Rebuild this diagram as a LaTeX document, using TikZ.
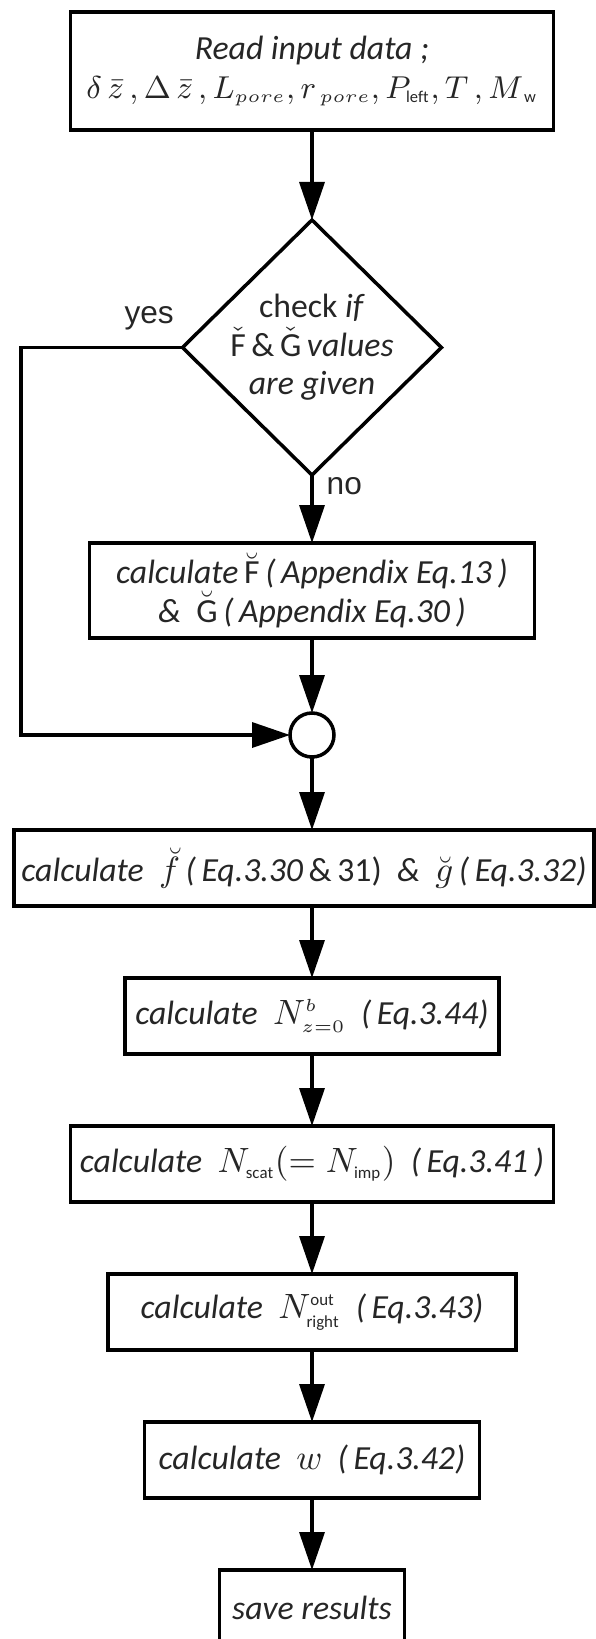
\documentclass[tikz,border=0pt]{standalone}
\usepackage{amsmath}
\usepackage{fontspec}
\setmainfont{Carlito}
\newfontfamily\labelfont{Liberation Sans}
\usetikzlibrary{arrows.meta, shapes.geometric, positioning, calc}
\newcommand{\ssub}[1]{{\scriptscriptstyle #1}}
\tikzset{
  procbox/.style={
    rectangle, draw=black, line width=1pt, outer sep=0pt,
    minimum width=#1, minimum height=0.76cm,
    inner sep=1pt, align=center, text=black!85,
    font=\fontsize{9.6}{11}\selectfont\itshape
  },
  procbox/.default=4cm,
  decision/.style={
    diamond, draw=black, line width=1pt, aspect=1, outer sep=0pt,
    minimum width=2.59cm, minimum height=2.55cm,
    inner sep=-3pt, align=center, text=black!85,
    font=\fontsize{9.6}{11}\selectfont
  },
  junction/.style={
    circle, draw=black, line width=1pt, outer sep=0pt,
    minimum size=0.44cm, inner sep=0pt
  },
  flowarrow/.style={-{Triangle[length=0.38cm,width=0.25cm]}, line width=1pt},
  branchlabel/.style={font=\labelfont\fontsize{9}{11}\selectfont, inner sep=0pt, text=black!85},
}

\begin{document}
\begin{tikzpicture}
  \useasboundingbox (0,0) rectangle (5.96,-16.39);
  \node[procbox=4.83cm, minimum height=1.18cm] (read) at (3.12,-0.71)
    {Read input data ;\\
     \upshape\fontsize{9.4}{11}\selectfont
     $\delta\,\bar{z}\,,\Delta\,\bar{z}\,,L_{\ssub{pore}},r_{\ssub{\,pore}},P_{\ssub{\mathrm{left}}},T\,,M_{\ssub{\,\mathrm{w}}}$};
  \node[decision, below=0.9cm of read] (check)
    {check \textit{if}\\ $\check{\mathrm{F}}$\,\&\,$\check{\mathrm{G}}$\,\textit{values}\\ \textit{are given}};
  \node[procbox=4.45cm, minimum height=0.95cm, below=0.68cm of check] (calcFG)
    {calculate\,$\breve{\mathrm{F}}$\,(\,Appendix Eq.13\,)\\
     \&\ \ $\breve{\mathrm{G}}$\,(\,Appendix Eq.30\,)};
  \node[junction, below=0.75cm of calcFG] (merge) {};
  \node[procbox=5.8cm, below=0.73cm of merge, xshift=-0.08cm] (calcfg)
    {calculate \ $\breve{f}$\,(\,Eq.3.30\,{\upshape\&\,31)} \ \& \ $\breve{g}$\,(\,Eq.3.32)};
  \node[procbox=3.74cm, below=0.72cm of calcfg, xshift=0.08cm] (calcNzero)
    {calculate \ $N^{\ssub{b}}_{\ssub{z=0}}$ \ (\,Eq.3.44)};
  \node[procbox=4.83cm, below=0.72cm of calcNzero] (calcNscat)
    {calculate \ $N_{\ssub{\mathrm{scat}}}(=N_{\ssub{\mathrm{imp}}})$ \ (\,Eq.3.41\,)};
  \node[procbox=4.08cm, below=0.72cm of calcNscat] (calcNright)
    {calculate \ $N^{\ssub{\mathrm{out}}}_{\ssub{\mathrm{right}}}$ \ (\,Eq.3.43)};
  \node[procbox=3.35cm, below=0.72cm of calcNright] (calcw)
    {calculate \ $w$ \ (\,Eq.3.42)};
  \node[procbox=1.85cm, below=0.72cm of calcw] (save) {save results};

  \node[branchlabel, above left=0.17cm and 0.08cm of check.west] (yes) {yes};
  \node[branchlabel, below right=0.02cm and 0.14cm of check.south] (no) {no};
  \coordinate (leftrail) at (0.21,0);

  \draw[flowarrow] (read) -- (check);
  \draw[flowarrow] (check) -- (calcFG);
  \draw[flowarrow] (check.west) -- (check.west -| leftrail) |- (merge.west);
  \draw[flowarrow] (calcFG) -- (merge);
  \draw[flowarrow] (merge.south) -- (merge.south |- calcfg.north);
  \draw[flowarrow] (calcfg.south -| calcNzero.north) -- (calcNzero.north);
  \draw[flowarrow] (calcNzero) -- (calcNscat);
  \draw[flowarrow] (calcNscat) -- (calcNright);
  \draw[flowarrow] (calcNright) -- (calcw);
  \draw[flowarrow] (calcw) -- (save);
\end{tikzpicture}
\end{document}
